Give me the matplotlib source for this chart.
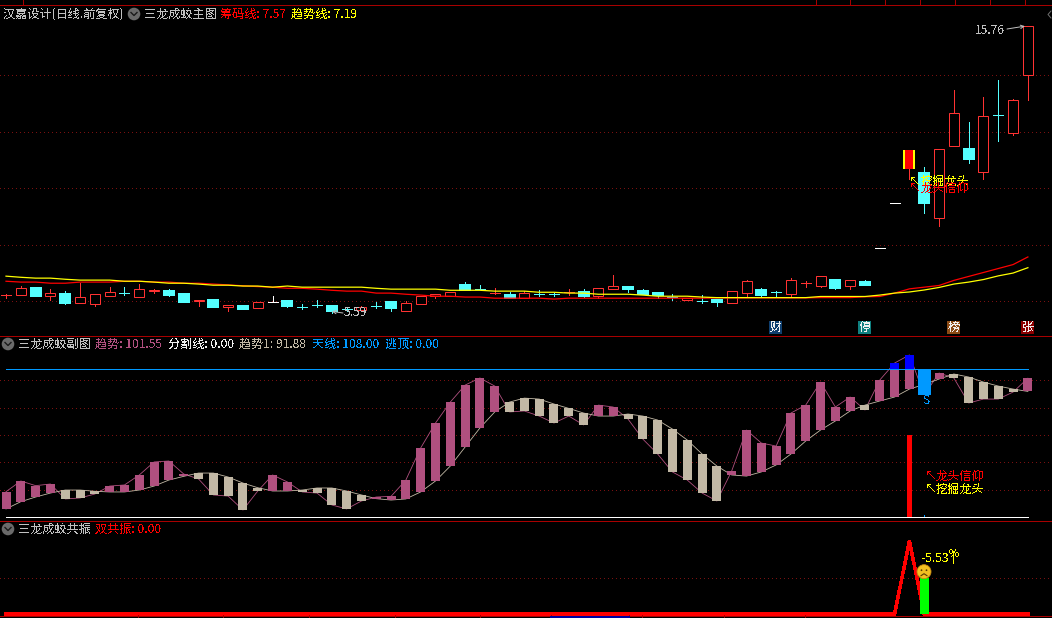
import matplotlib
matplotlib.use("Agg")
import matplotlib.pyplot as plt
from matplotlib.lines import Line2D
from matplotlib.patches import Circle, Rectangle
from matplotlib.transforms import IdentityTransform

plt.rcParams['font.family'] = ['Noto Sans CJK SC', 'DejaVu Sans']
plt.rcParams['text.antialiased'] = False

opens = [6.24,6.24,6.46,6.17,6.26,5.95,5.92,6.17,6.28,6.15,6.36,6.37,6.26,6.00,6.05,5.81,5.83,5.78,5.97,6.01,
         5.81,5.88,5.83,5.74,5.70,5.82,5.97,5.67,5.92,6.18,6.17,6.58,6.44,6.29,6.23,6.12,6.26,6.26,6.32,6.33,
         6.17,6.45,6.51,6.37,6.30,6.16,6.03,6.01,6.05,5.95,6.29,6.40,6.33,6.27,6.64,6.55,6.75,6.55,6.69,7.89,
         9.48,10.70,10.55,8.96,11.48,11.40,10.56,12.61,11.94,14.01]
highs = [6.25,6.55,6.46,6.44,6.37,6.66,6.25,6.50,6.50,6.61,6.42,6.43,6.30,6.04,6.05,5.86,5.87,5.97,6.18,6.01,
         5.91,6.05,5.83,5.77,5.84,5.97,5.97,6.00,6.18,6.26,6.32,6.68,6.58,6.47,6.33,6.35,6.40,6.31,6.44,6.44,
         6.46,6.94,6.51,6.44,6.32,6.26,6.11,6.23,6.05,6.36,6.75,6.47,6.36,6.83,6.72,6.89,6.75,6.75,6.75,7.89,
         9.48,11.36,10.76,11.39,13.48,12.35,13.24,13.84,13.17,15.76]
lows = [6.10,6.24,6.17,6.03,5.91,5.95,5.85,6.17,6.24,6.15,6.29,6.20,5.99,5.85,5.81,5.64,5.71,5.78,5.97,5.81,
        5.72,5.81,5.59,5.66,5.70,5.77,5.67,5.64,5.92,6.10,6.17,6.40,6.43,6.26,6.12,6.12,6.19,6.17,6.23,6.16,
        6.12,6.45,6.34,6.26,6.13,6.05,6.03,5.95,5.85,5.95,6.15,6.20,6.15,6.15,6.52,6.52,6.45,6.45,6.56,7.89,
        9.48,10.33,9.11,8.67,11.48,10.88,10.32,11.68,11.89,13.14]
closes = [6.25,6.46,6.20,6.29,5.94,6.15,6.25,6.33,6.27,6.43,6.40,6.24,5.99,6.04,5.81,5.86,5.71,5.97,5.97,5.84,
          5.80,5.87,5.67,5.73,5.79,5.81,5.77,5.93,6.18,6.26,6.32,6.40,6.43,6.30,6.12,6.29,6.25,6.25,6.33,6.19,
          6.46,6.54,6.44,6.26,6.24,6.15,6.11,6.00,5.99,6.36,6.71,6.24,6.32,6.75,6.65,6.89,6.47,6.75,6.58,7.89,
          9.48,11.36,9.49,11.39,12.66,11.05,12.55,12.60,13.12,15.76]
chip_line = [6.71,6.68,6.68,6.64,6.64,6.68,6.68,6.68,6.71,6.71,6.68,6.68,6.64,6.64,6.61,6.58,6.55,6.52,6.50,6.46,
             6.46,6.43,6.39,6.36,6.36,6.29,6.29,6.25,6.22,6.18,6.18,6.15,6.15,6.11,6.11,6.11,6.11,6.08,6.11,6.11,
             6.11,6.11,6.11,6.11,6.11,6.11,6.11,6.11,6.12,6.12,6.12,6.12,6.12,6.12,6.12,6.13,6.13,6.13,6.16,6.17,
             6.29,6.44,6.50,6.56,6.74,6.88,7.02,7.16,7.30,7.57]
trend_line = [6.89,6.85,6.82,6.82,6.78,6.75,6.75,6.75,6.71,6.71,6.68,6.64,6.64,6.61,6.57,6.57,6.54,6.54,6.50,6.54,
              6.50,6.50,6.50,6.50,6.50,6.46,6.43,6.43,6.43,6.43,6.39,6.39,6.39,6.36,6.36,6.36,6.32,6.32,6.29,6.29,
              6.25,6.25,6.25,6.22,6.18,6.18,6.18,6.15,6.13,6.13,6.13,6.13,6.13,6.13,6.13,6.17,6.17,6.17,6.17,6.22,
              6.29,6.33,6.40,6.49,6.61,6.68,6.77,6.90,7.00,7.19]
trend_a = [18.7,26.5,23.1,24.3,13.4,14.1,17.0,22.8,23.6,30.9,40.4,41.1,31.6,28.0,16.3,15.5,5.3,19.2,30.9,25.8,
           18.5,17.7,9.0,6.1,11.9,14.8,15.3,27.2,50.6,68.8,84.1,96.5,101.7,95.8,76.9,77.6,73.9,68.8,73.9,67.4,
           81.9,80.5,71.7,57.1,46.2,33.1,27.2,17.7,11.9,33.8,63.7,54.2,52.0,76.1,81.9,98.7,80.5,87.8,78.3,100.2,
           112.6,118.5,89.3,105.3,101.7,83.4,86.3,86.3,91.4,101.55]
trend_b = [6.1,11.4,14.8,17.7,19.9,19.9,19.0,18.5,18.5,19.9,22.8,27.2,29.9,32.3,32.3,29.4,25.0,21.6,19.2,19.2,
           19.9,21.4,21.4,19.2,16.3,13.6,12.6,13.4,18.5,26.5,37.4,51.3,65.2,76.9,84.1,87.0,86.3,82.7,79.5,76.1,
           73.9,73.9,75.4,73.9,71.0,64.4,56.4,46.2,37.4,30.9,30.1,33.1,38.2,46.2,55.7,63.7,70.3,77.6,81.9,84.9,
           87.8,93.6,97.0,100.9,104.6,102.4,98.7,95.8,93.6,91.88]
resonance = [0.0]*61 + [100.0] + [0.0]*8
sky_line = 108.0
split_line = 0.0
signal_day = 61
escape_day = 62
signal_bar = 60.0
green_bar = 49.0
price_ticks = [6, 8, 10, 12, 14]
sub_ticks = [20, 40, 60, 80, 100]
res_ticks = [50]

n = len(opens)
days = list(range(n))
RED, CYAN, YEL, GREY = '#ff3232', '#54ffff', '#ffff00', '#c0c0c0'
PINK, BEIGE, BLUE = '#b0507f', '#c2b8a5', '#0099ff'
SEP, DOT = '#a80000', '#7a1010'
THIN = 0.7
W, H = 1052, 618
XSTEP = 14.81

fig = plt.figure(figsize=(W/100, H/100), dpi=100, facecolor='black')

def panel(top, bottom, y_top, y_bot):
    ax = fig.add_axes([0, 1-bottom/H, 1, (bottom-top)/H], facecolor='none')
    ax.set_xlim(-6/XSTEP, (W-6)/XSTEP)
    ax.set_ylim(y_bot, y_top)
    ax.axis('off')
    return ax

ax1 = panel(4.5, 335.5, 14+(75.3-4.5)/28.25, 6-(335.5-301.3)/28.25)
ax2 = panel(335.5, 520.5, (517.3-335.5)/1.37, (517.3-520.5)/1.37)
ax3 = panel(520.5, 618, (614-520.5)/0.73, (614-618)/0.73)

def grid(ax, vals):
    for v in vals:
        ax.plot([ax.get_xlim()[0], ax.get_xlim()[1]], [v, v], color=DOT, lw=THIN,
                ls=(0, (1, 4)), antialiased=False, zorder=1)

grid(ax1, price_ticks)
grid(ax2, sub_ticks)
grid(ax3, res_ticks)

# candles
body = 10/XSTEP
for i in days:
    o, h, l, c = opens[i], highs[i], lows[i], closes[i]
    col = RED if c > o else CYAN if c < o else 'white'
    if i == signal_day:
        ax1.vlines(i, l, h, color=RED, lw=THIN, antialiased=False, zorder=3)
        ax1.add_patch(Rectangle((i-6/XSTEP, o), 12/XSTEP, c-o, fc=YEL, ec='none', antialiased=False, zorder=4))
        ax1.add_patch(Rectangle((i-4/XSTEP, o), 8/XSTEP, c-o, fc='#ff0000', ec='none', antialiased=False, zorder=5))
        continue
    ax1.vlines(i, l, h, color=col, lw=THIN, antialiased=False, zorder=3)
    lo, hi = min(o, c), max(o, c)
    if hi-lo < 0.035:
        ax1.plot([i-body/2, i+body/2], [o, o], color=col, lw=THIN, antialiased=False, zorder=4, solid_capstyle='butt')
    elif c > o:
        ax1.add_patch(Rectangle((i-body/2, lo), body, hi-lo, fc='black', ec=col, lw=0.72, snap=True, zorder=4))
    else:
        ax1.add_patch(Rectangle((i-body/2, lo), body, hi-lo, fc=col, ec=col, lw=0.3, antialiased=False, zorder=4))

ax1.plot(days, chip_line, color='#ff0000', lw=0.9, zorder=6)
ax1.plot(days, trend_line, color=YEL, lw=0.9, zorder=7)

# sub panel
ax2.plot(days, trend_a, color=PINK, lw=0.6, zorder=2)
ax2.plot(days, trend_b, color=BEIGE, lw=0.6, zorder=2)
bw = 9/XSTEP
for i in days:
    a, b = trend_a[i], trend_b[i]
    ax2.bar(i, abs(a-b), bottom=min(a, b), width=bw, color=PINK if a >= b else BEIGE,
            antialiased=False, zorder=3)
    if max(a, b) > sky_line:
        ax2.bar(i, max(a, b)-sky_line, bottom=sky_line, width=bw, color='#0000ff', antialiased=False, zorder=4)
ax2.bar(escape_day, sky_line-trend_a[escape_day], bottom=trend_a[escape_day], width=13/XSTEP,
        color=BLUE, antialiased=False, zorder=4)
ax2.bar(signal_day, signal_bar, width=5/XSTEP, color='#ff0000', antialiased=False, zorder=5)
ax2.bar(escape_day, 1.5, width=1/XSTEP, color=BLUE, antialiased=False, zorder=5)
ax2.plot([days[0], days[-1]], [sky_line]*2, color=BLUE, lw=THIN, antialiased=False, zorder=5)
ax2.plot([days[0], days[-1]], [split_line]*2, color='white', lw=THIN, antialiased=False, zorder=4)

# resonance panel
ax3.bar(escape_day, green_bar, width=9/XSTEP, color='#00ff00', antialiased=False, zorder=5)
ax3.plot(days, resonance, color='#ff0000', lw=1.8, antialiased=False, zorder=4, solid_joinstyle='miter')

# frame lines in pixels
pix = IdentityTransform()
def hline(y, x0=0, x1=W, c=SEP, lw=THIN):
    fig.add_artist(Line2D([x0, x1], [H-y, H-y], transform=pix, color=c, lw=lw, antialiased=False))
def vtick(x, y0, y1, c=SEP):
    fig.add_artist(Line2D([x, x], [H-y0, H-y1], transform=pix, color=c, lw=THIN, antialiased=False))

for y in (4.5, 335.5, 520.5, 615.5):
    hline(y)
for x in [23, 816, 850, 885, 920, 955, 990, 1025]:
    vtick(x, 0, 4)
for x in [138, 223, 309, 395, 480, 551, 629, 642, 724, 805]:
    vtick(x, 615, 618)
hline(617, 551, 629, '#0000a0', 1.4)

def txt(x, y, s, c, size=8.7, **kw):
    fig.text(x/W, 1-y/H, s, color=c, fontsize=size, va='center', ha='left', **kw)

def icon(x, y):
    fig.add_artist(Circle((x, H-y), 6.3, transform=pix, fc='#6a6a6a', ec='none', antialiased=True))
    fig.add_artist(Line2D([x-3, x, x+3], [H-y+1.5, H-y-1.5, H-y+1.5], transform=pix, color='#1a1a1a', lw=1.0))

title_main = [(3, '汉嘉设计(日线.前复权)', GREY), (144, '三龙成蛟主图', GREY),
              (220, '筹码线: 7.57', '#ff0000'), (291, '趋势线: 7.19', YEL)]
title_sub = [(18, '三龙成蛟副图', GREY), (95, '趋势: 101.55', PINK), (168, '分割线: 0.00', '#f0f0f0'),
             (239, '趋势1: 91.88', BEIGE), (312, '天线: 108.00', BLUE), (385, '逃顶: 0.00', BLUE)]
title_res = [(18, '三龙成蛟共振', GREY), (95, '双共振: 0.00', '#ff0000')]
for x, s, c in title_main:
    txt(x, 14, s, c)
for x, s, c in title_sub:
    txt(x, 344, s, c)
for x, s, c in title_res:
    txt(x, 529, s, c)
icon(134, 14); icon(8, 344); icon(8, 529)

# right-edge marker
fig.add_artist(Line2D([1051, 1048, 1051], [H-11, H-14.5, H-18], transform=pix, color='#707070', lw=0.7))

# price extremes
ax1.annotate('15.76', xy=(days[-1], highs[-1]), xycoords='data', xytext=(975, H-30), textcoords='figure pixels',
             color=GREY, fontsize=8.7, va='center', ha='left', zorder=9)
ax1.annotate('', xy=(days[-1]-3/XSTEP, highs[-1]-0.02), xytext=(1007, H-29), textcoords='figure pixels',
             arrowprops=dict(arrowstyle='->', color=GREY, lw=0.7, mutation_scale=6, shrinkA=0, shrinkB=0), zorder=9)
ax1.annotate('', xy=(22, 5.64), xytext=(343, H-313), textcoords='figure pixels',
             arrowprops=dict(arrowstyle='->', color=GREY, lw=0.7, mutation_scale=6, shrinkA=0, shrinkB=0), zorder=9)
txt(344, 313, '5.59', GREY)

# signals
txt(909, 181.5, '↖', YEL)
txt(921, 181.5, '挖掘龙头', YEL)
txt(909, 188, '↖', '#ff0000')
txt(921, 188, '龙头信仰', '#ff0000')
txt(925, 476, '↖', '#ff0000')
txt(936, 476, '龙头信仰', '#ff0000')
txt(925, 489, '↖', YEL)
txt(936, 489, '挖掘龙头', YEL)
txt(923, 401, 'S', BLUE)
txt(921, 558, '-5.53', YEL)
txt(949, 554, '%', YEL, size=8)
fig.add_artist(Line2D([952.5, 952.5], [H-551, H-563], transform=pix, color=YEL, lw=0.7, antialiased=False))

# face
fx, fy = 924, H-571.7
fig.add_artist(Circle((fx, fy), 7, transform=pix, fc='#f2c021', ec='#c88a10', lw=0.6, zorder=8))
for dx in (-2.5, 2.5):
    fig.add_artist(Circle((fx+dx, fy+1.5), 0.9, transform=pix, fc='#5a3a00', ec='none', zorder=9))
fig.add_artist(Line2D([fx-3, fx, fx+3], [fy-4, fy-2, fy-4], transform=pix, color='#5a3a00', lw=0.8, zorder=9))

# small badges
badges = [(769, '财', '#0f3f6f'), (858, '停', '#0f8080'), (947, '榜', '#8b4a14'), (1021, '张', '#8b0000')]
for x, s, c in badges:
    fig.add_artist(Rectangle((x, H-334), 13, 13, transform=pix, fc=c, ec='none', antialiased=False))
    txt(x+0.5, 327.5, s, '#f0f0f0')

fig.savefig('out.png', dpi=100, facecolor='black')
